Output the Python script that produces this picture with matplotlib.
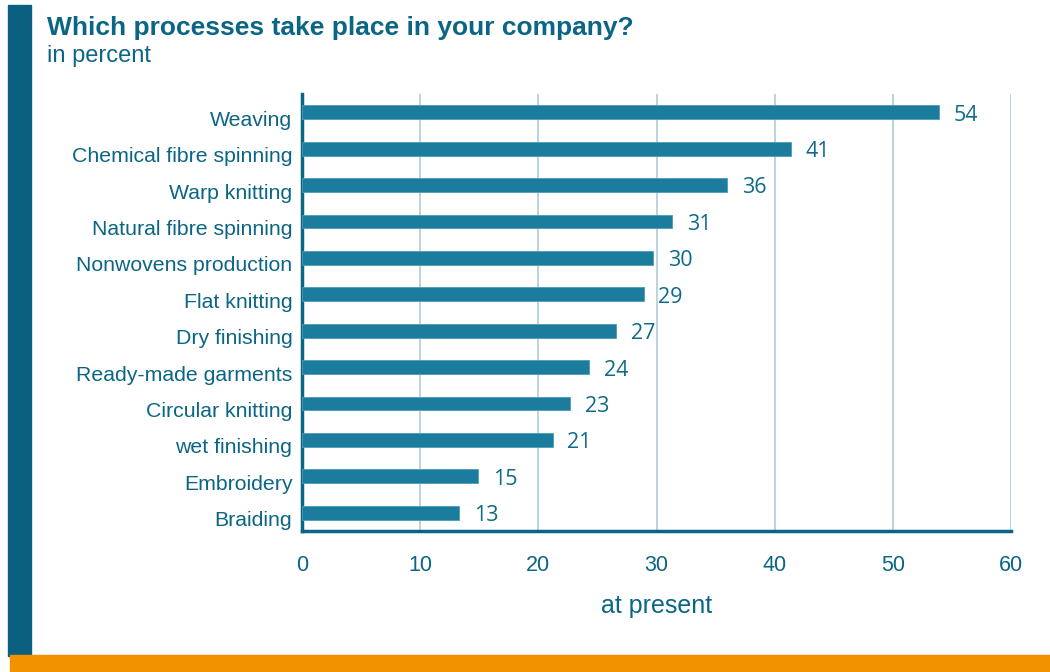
import matplotlib
matplotlib.use("Agg")
import matplotlib.pyplot as plt
from matplotlib.patches import Rectangle
from matplotlib.transforms import ScaledTranslation

# Survey data: share of companies running each process (percent)
categories = [
    "Weaving", "Chemical fibre spinning", "Warp knitting", "Natural fibre spinning",
    "Nonwovens production", "Flat knitting", "Dry finishing", "Ready-made garments",
    "Circular knitting", "wet finishing", "Embroidery", "Braiding",
]
values = [53.9, 41.4, 36.0, 31.3, 29.7, 28.9, 26.6, 24.3, 22.7, 21.2, 14.9, 13.3]
x_ticks = [0, 10, 20, 30, 40, 50, 60]

title = "Which processes take place in your company?"
subtitle = "in percent"
x_label = "at present"

BAR = "#1b7c9e"
DARK = "#0b6584"
TEXT = "#0e6a88"
GRID = "#a9c6d3"
ORANGE = "#f39200"

W, H = 1050, 672
fig = plt.figure(figsize=(W / 100, H / 100), dpi=100)
fig.patch.set_facecolor("white")

# Decorative frame: vertical band on the left, orange strip at the bottom
fig.add_artist(Rectangle((8 / W, 1 - 656 / H), 23 / W, 651 / H,
                         transform=fig.transFigure, color="#0b5f80", zorder=0))
fig.add_artist(Rectangle((10 / W, 0), 1 - 10 / W, 17 / H,
                         transform=fig.transFigure, color=ORANGE, zorder=0))

fig.text(47 / W, 1 - 28 / H, title, fontsize=19, fontweight="bold",
         color=DARK, family="Liberation Sans", va="center", ha="left")
fig.text(47 / W, 1 - 56 / H, subtitle, fontsize=17,
         color=DARK, family="Liberation Sans", va="center", ha="left")

left, right, top, bottom = 302, 1011, 94, 531
ax = fig.add_axes([left / W, 1 - bottom / H, (right - left) / W, (bottom - top) / H])

y = list(range(len(categories)))
ax.barh(y, values, height=0.38, color=BAR, edgecolor="#4a9cb8", linewidth=0.6, zorder=3)
ax.set_ylim(len(categories) - 0.5, -0.5)
ax.set_xlim(0, 60)

for yi, v in zip(y, values):
    ax.text(v + 1.25, yi + 0.08, f"{v:.0f}", va="center", ha="left", fontsize=15.5,
            color=TEXT, family="Open Sans", zorder=4)

ax.set_yticks(y)
ax.set_yticklabels(categories, fontsize=15.3, color=DARK, family="Liberation Sans")
ax.set_xticks(x_ticks)
ax.set_xticklabels([str(t) for t in x_ticks], fontsize=15.5, color=DARK,
                   family="Liberation Sans")
ax.tick_params(axis="both", length=0)
ax.tick_params(axis="y", pad=7)
ax.tick_params(axis="x", pad=17)

# category names sit slightly below the bar centres
shift = ScaledTranslation(0, -6 / 100, fig.dpi_scale_trans)
for lab in ax.get_yticklabels():
    lab.set_transform(lab.get_transform() + shift)

ax.grid(axis="x", color=GRID, linewidth=1.1, zorder=0)
ax.set_axisbelow(True)
for s in ("top", "right"):
    ax.spines[s].set_visible(False)
for s in ("left", "bottom"):
    ax.spines[s].set_color(DARK)
    ax.spines[s].set_linewidth(2.5)

ax.set_xlabel(x_label, fontsize=18, color=DARK, family="Liberation Sans",
              labelpad=13)

fig.savefig("out.png", dpi=100, facecolor="white")
